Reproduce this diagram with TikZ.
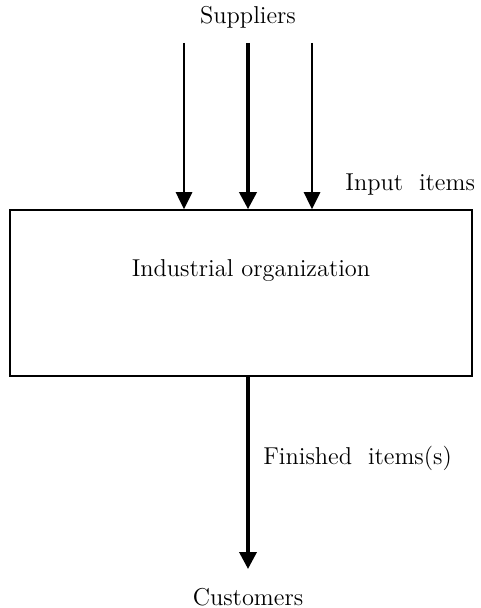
\documentclass[tikz,border=0pt]{standalone}
\usepackage{tikz}
\usetikzlibrary{arrows.meta}

\begin{document}
\begin{tikzpicture}[x=0.5pt, y=-0.5pt, font=\fontsize{12.2}{14}\selectfont, main/.style={draw, rectangle, line width=0.8pt, minimum width=231pt, minimum height=83pt, inner sep=0pt}, txt/.style={inner sep=0pt}, n/.style={-{Triangle[width=8pt,length=8.5pt]}, line width=1.4pt}, n2/.style={-{Triangle[width=8.5pt,length=8.5pt]}, line width=1.8pt}]
                \useasboundingbox (0,0) rectangle (480,608);
                % nodes
                \node[main] (org) at (241,293) {};
                \node[txt] (name) at (251,271) {Industrial organization};
                \node[txt] (sup) at (248,17) {Suppliers};
                \node[txt, anchor=west] (in) at (345,185) {Input\ \ items};
                \node[txt, anchor=west] (fin) at (263,458) {Finished\ \ items(s)};
                \node[txt] (cus) at (248,597) {Customers};
                \coordinate (s1) at (184,43);
                \coordinate (s2) at (248,43);
                \coordinate (s3) at (312,43);
                \coordinate (c) at (248,569);
                % edges
                \draw [n] (s1) -- (s1 |- org.north);
                \draw [n2] (s2) -- (s2 |- org.north);
                \draw [n] (s3) -- (s3 |- org.north);
                \draw [n2] (c |- org.south) -- (c);
            \end{tikzpicture}
\end{document}
